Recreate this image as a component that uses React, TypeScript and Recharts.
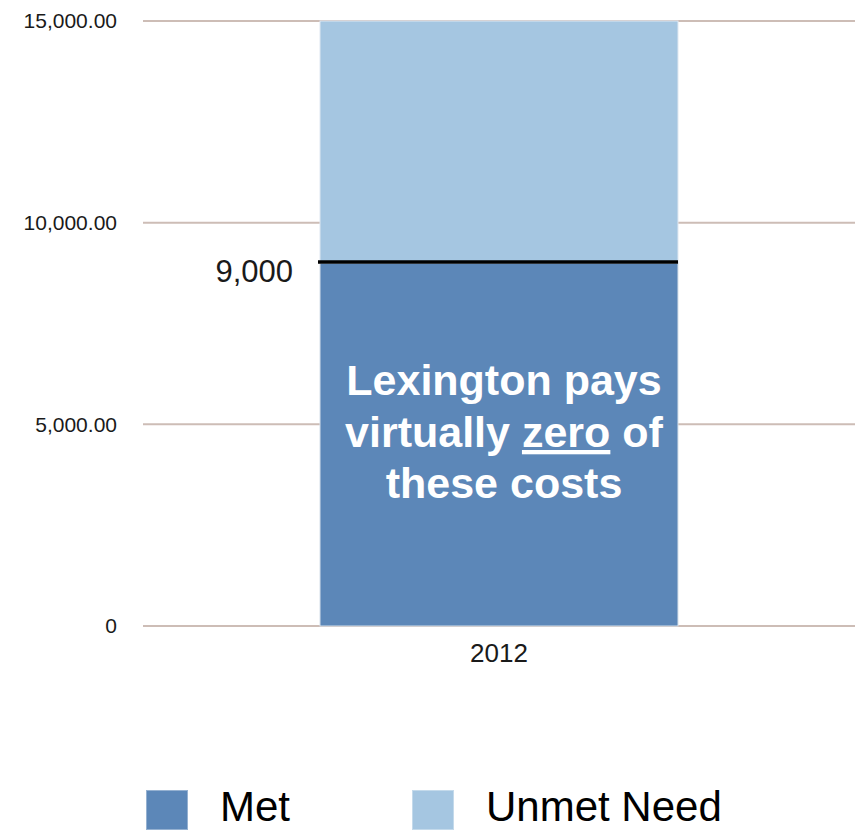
import React from 'react';
import { BarChart, Bar, XAxis, YAxis, CartesianGrid, Legend, LabelList } from 'recharts';

const categories = ['2012'];
const metValues = [9000];
const unmetValues = [6000];
const yTicks = [0, 5000, 10000, 15000];
const seriesNames = ['Met', 'Unmet Need'];
const seriesColors = ['#5c87b8', '#a5c6e1'];
const metLabelText = ['9,000'];
const annotationLines: { text: string; underline?: boolean }[][] = [
  [{ text: 'Lexington pays' }],
  [{ text: 'virtually ' }, { text: 'zero', underline: true }, { text: ' of' }],
  [{ text: 'these costs' }],
];

const data = categories.map((c, i) => ({ year: c, met: metValues[i], unmet: unmetValues[i], label: metLabelText[i] }));

const FONT = '"Liberation Sans", Arial, Helvetica, sans-serif';

const fmtTick = (v: number) =>
  v === 0 ? '0' : v.toLocaleString('en-US', { minimumFractionDigits: 2, maximumFractionDigits: 2 });

const MetShape = (props: any) => {
  const { x, y, width, height, fill } = props;
  return <rect x={x} y={y} width={width} height={height} fill={fill} stroke="#d6e0ea" strokeWidth={1} />;
};

// Unmet sits on top of Met; its bottom edge is the Met total, marked with a black line.
const UnmetShape = (props: any) => {
  const { x, y, width, height, fill } = props;
  return (
    <g>
      <rect x={x} y={y} width={width} height={height} fill={fill} stroke="#dfe8f1" strokeWidth={1} />
      <line x1={x - 2} x2={x + width} y1={y + height - 1} y2={y + height - 1} stroke="#000" strokeWidth={3.5} />
    </g>
  );
};

const MetLabel = (props: any) => {
  const { x, y, width, value } = props;
  const cx = x + width / 2 + 5;
  const baselines = [132, 184, 235];
  return (
    <g>
      <text x={x - 27} y={y + 19} textAnchor="end" fontFamily={FONT} fontSize={31} fill="#1a1a1a">
        {value}
      </text>
      {annotationLines.map((line, i) => (
        <text
          key={i}
          x={cx}
          y={y + baselines[i]}
          textAnchor="middle"
          fontFamily={FONT}
          fontSize={43}
          fontWeight="bold"
          fill="#ffffff"
        >
          {line.map((seg, j) => (
            <tspan key={j} style={seg.underline ? { textDecoration: 'underline' } : undefined}>
              {seg.text}
            </tspan>
          ))}
        </text>
      ))}
    </g>
  );
};

const LegendContent = () => (
  <div style={{ display: 'flex', alignItems: 'flex-start', paddingLeft: 146, height: 38, fontFamily: FONT }}>
    {seriesNames.map((name, i) => (
      <div key={name} style={{ display: 'flex', alignItems: 'flex-start', width: i === 0 ? 266 : 380 }}>
        <div style={{ width: 42, height: 40, marginTop: -2, background: seriesColors[i], boxShadow: 'inset 0 0 0 1px rgba(255,255,255,0.35)' }} />
        <div style={{ marginLeft: 32, marginTop: -4, fontSize: 42, lineHeight: '38px', height: 38, color: '#000', whiteSpace: 'nowrap' }}>{name}</div>
      </div>
    ))}
  </div>
);

export default function App() {
  return (
    <div style={{ position: 'absolute', left: 0, top: 0, width: 855, height: 830, background: '#fff', overflow: 'hidden' }}>
      <BarChart width={855} height={830} data={data} margin={{ top: 21, right: 0, bottom: 0, left: 0 }} barCategoryGap="25%">
        <CartesianGrid horizontal vertical={false} stroke="#cdbdb6" strokeWidth={2} />
        <XAxis
          dataKey="year"
          axisLine={false}
          tickLine={false}
          tickSize={6}
          tickMargin={12}
          height={166}
          tick={{ fontFamily: FONT, fontSize: 26, fill: '#1a1a1a' }}
        />
        <YAxis
          domain={[0, 15000]}
          ticks={yTicks}
          tickFormatter={fmtTick}
          axisLine={false}
          tickLine={false}
          tickSize={6}
          tickMargin={20}
          width={143}
          tick={{ fontFamily: FONT, fontSize: 21, fill: '#1a1a1a' }}
        />
        <Legend verticalAlign="bottom" align="left" height={38} content={<LegendContent />} wrapperStyle={{ left: 0, width: 855 }} />
        <Bar dataKey="met" name={seriesNames[0]} stackId="a" fill={seriesColors[0]} barSize={358} shape={<MetShape />} isAnimationActive={false}>
          <LabelList dataKey="label" content={<MetLabel />} />
        </Bar>
        <Bar dataKey="unmet" name={seriesNames[1]} stackId="a" fill={seriesColors[1]} barSize={358} shape={<UnmetShape />} isAnimationActive={false} />
      </BarChart>
    </div>
  );
}
